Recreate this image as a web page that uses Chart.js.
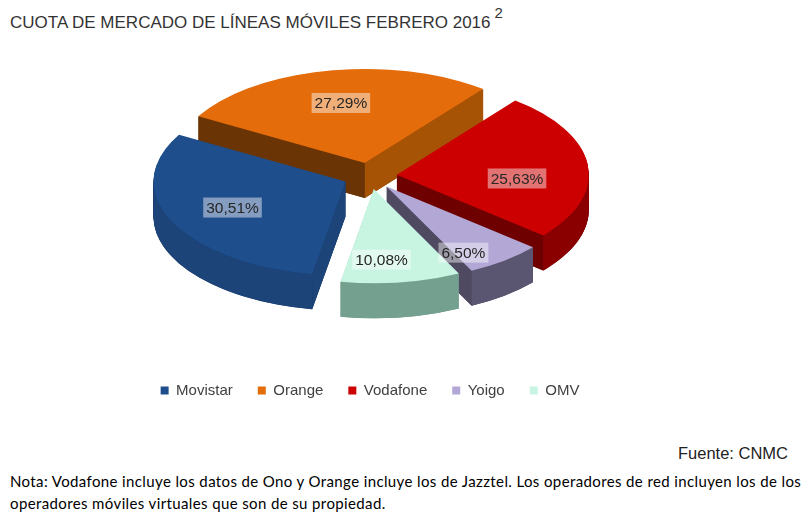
<!DOCTYPE html>
<html>
<head>
<meta charset="utf-8">
<script src="https://cdn.jsdelivr.net/npm/chart.js@4.4.1/dist/chart.umd.min.js"></script>
<style>
  body { margin: 0; width: 807px; height: 515px; background: #fff; position: relative; overflow: hidden;
         font-family: "Liberation Sans", Arial, sans-serif; }
  #title { position: absolute; left: 10px; top: 7px; font-size: 17px; color: #333; white-space: nowrap; }
  #title sup { font-size: 15px; position: relative; top: -3px; margin-left: 4px; }
  #wrap { position: absolute; left: 0; top: 0; width: 740px; height: 408px; }
  #fuente { position: absolute; right: 19px; top: 444px; font-size: 16.5px; color: #222; }
  #nota { position: absolute; left: 10px; top: 470px; font-family: Lato, "Open Sans", sans-serif; font-size: 15px;
          letter-spacing: 0.38px; line-height: 22px; color: #000; white-space: nowrap; }
</style>
</head>
<body>
<div id="title">CUOTA DE MERCADO DE LÍNEAS MÓVILES FEBRERO 2016<sup>2</sup></div>
<div id="wrap"><canvas id="chart"></canvas></div>
<div id="fuente">Fuente: CNMC</div>
<div id="nota">Nota: Vodafone incluye los datos de Ono y Orange incluye los de Jazztel. Los operadores de red incluyen los de los<br>operadores móviles virtuales que son de su propiedad.</div>

<script>
// datos (cuota de líneas móviles, %)
const operators = ['Movistar', 'Orange', 'Vodafone', 'Yoigo', 'OMV'];
const shares = [30.51, 27.29, 25.63, 6.50, 10.08];

// colores: cara superior, lateral oscuro, lateral iluminado / frente curvo
const topColors = ['#1f4e8c', '#e46c0a', '#cc0000', '#b3a7d5', '#c8f5e1'];
const sideColors = ['#173a68', '#6a3405', '#6e0000', '#4f4a62', '#6a9585'];
const frontColors = ['#1c4479', '#a65306', '#8a0000', '#5a5570', '#74a08f'];
const labelNudge = [[0, 0], [0, 0], [-4, 10], [0, 18], [-10, 10]];

// geometría del "3D"
const R = 192;        // radio
const TILT = 0.49;    // aplastado vertical
const DEPTH = 35;     // grosor
const CENTER_Y = 176;

function slicePath(ctx, p, dy) {
    ctx.beginPath();
    ctx.moveTo(p.ox, p.oy + dy);
    ctx.ellipse(p.ox, p.oy + dy, R, R * TILT, 0, p.a1, p.a2);
    ctx.closePath();
}

function radialFace(ctx, p, a, normal) {
    if (Math.sin(normal) <= 0) return; // cara trasera
    const ex = p.ox + Math.cos(a) * R;
    const ey = p.oy + Math.sin(a) * R * TILT;
    ctx.beginPath();
    ctx.moveTo(p.ox, p.oy);
    ctx.lineTo(ex, ey);
    ctx.lineTo(ex, ey + DEPTH);
    ctx.lineTo(p.ox, p.oy + DEPTH);
    ctx.closePath();
    ctx.fillStyle = Math.cos(normal) > 0 ? frontColors[p.i] : sideColors[p.i];
    ctx.fill();
}

function frontWall(ctx, p, color) {
    const TAU = Math.PI * 2;
    for (let n = -1; n <= 2; n++) {
        const s = Math.max(p.a1, n * TAU);
        const e = Math.min(p.a2, n * TAU + Math.PI);
        if (e > s) {
            ctx.beginPath();
            ctx.ellipse(p.ox, p.oy, R, R * TILT, 0, s, e);
            ctx.ellipse(p.ox, p.oy + DEPTH, R, R * TILT, 0, e, s, true);
            ctx.closePath();
            ctx.fillStyle = color;
            ctx.fill();
        }
    }
}

const pie3d = {
    id: 'pie3d',
    beforeDatasetsDraw(chart) {
        const ctx = chart.ctx;
        const arcs = chart.getDatasetMeta(0).data;
        const cx = arcs[0].x;
        const cy = chart.chartArea.top + CENTER_Y;

        const parts = arcs.map((arc, i) => {
            const mid = (arc.startAngle + arc.endAngle) / 2;
            const off = arc.options.offset;
            return {
                i, mid, a1: arc.startAngle, a2: arc.endAngle,
                ox: cx + Math.cos(mid) * off,
                oy: cy + Math.sin(mid) * off * TILT
            };
        });

        // de atrás hacia delante
        const order = parts.slice().sort((p, q) =>
            (p.oy + Math.sin(p.mid) * R * TILT * 0.5) - (q.oy + Math.sin(q.mid) * R * TILT * 0.5));

        ctx.save();
        order.forEach(p => {
            ctx.fillStyle = sideColors[p.i];
            for (let d = DEPTH; d > 0; d--) {
                slicePath(ctx, p, d);
                ctx.fill();
            }
            radialFace(ctx, p, p.a1, p.a1 - Math.PI / 2);
            radialFace(ctx, p, p.a2, p.a2 + Math.PI / 2);
            frontWall(ctx, p, frontColors[p.i]);
            slicePath(ctx, p, 0);
            ctx.fillStyle = topColors[p.i];
            ctx.fill();
        });

        // etiquetas
        ctx.font = '15.5px "Liberation Sans", Arial, sans-serif';
        ctx.textAlign = 'center';
        ctx.textBaseline = 'middle';
        parts.forEach(p => {
            const txt = shares[p.i].toFixed(2).replace('.', ',') + '%';
            const lx = p.ox + Math.cos(p.mid) * R * 0.65 + labelNudge[p.i][0];
            const ly = p.oy + Math.sin(p.mid) * R * TILT * 0.65 + labelNudge[p.i][1];
            const w = ctx.measureText(txt).width + 6;
            ctx.fillStyle = 'rgba(255,255,255,0.45)';
            ctx.fillRect(lx - w / 2, ly - 10, w, 20);
            ctx.fillStyle = '#262626';
            ctx.fillText(txt, lx, ly + 1);
        });
        ctx.restore();
        return false;
    }
};

new Chart(document.getElementById('chart'), {
    type: 'pie',
    data: {
        labels: operators,
        datasets: [{
            data: shares,
            backgroundColor: topColors,
            borderWidth: 0,
            offset: 27
        }]
    },
    options: {
        responsive: true,
        maintainAspectRatio: false,
        animation: false,
        rotation: 190,
        layout: { padding: 0 },
        plugins: {
            tooltip: { enabled: false },
            legend: {
                position: 'bottom',
                labels: {
                    boxWidth: 8,
                    boxHeight: 8,
                    padding: 25,
                    color: '#404040',
                    font: { family: '"Liberation Sans", Arial, sans-serif', size: 15 }
                }
            }
        }
    },
    plugins: [pie3d]
});
</script>
</body>
</html>
